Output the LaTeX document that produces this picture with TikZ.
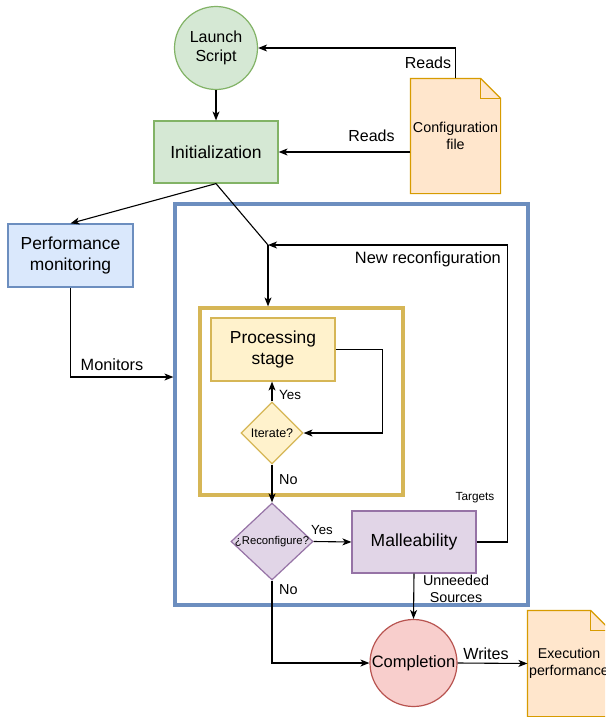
\documentclass[tikz,border=0pt]{standalone}
\usepackage{fontspec}
\setmainfont{Liberation Sans}
\usetikzlibrary{arrows.meta,shapes.geometric}
\definecolor{gfill}{HTML}{D5E8D4}\definecolor{gline}{HTML}{82B366}
\definecolor{ofill}{HTML}{FFE6CC}\definecolor{oline}{HTML}{D79B00}
\definecolor{bfill}{HTML}{DAE8FC}\definecolor{bline}{HTML}{6C8EBF}
\definecolor{yfill}{HTML}{FFF2CC}\definecolor{yline}{HTML}{D6B656}
\definecolor{pfill}{HTML}{E1D5E7}\definecolor{pline}{HTML}{9673A6}
\definecolor{rfill}{HTML}{F8CECC}\definecolor{rline}{HTML}{B85450}
\newcommand{\fs}[1]{\fontsize{#1}{\dimexpr #1pt*12/10\relax}\selectfont}
\begin{document}
\begin{tikzpicture}[x=1pt,y=-1pt,
  base/.style={line width=1.2pt,inner sep=0pt,align=center},
  greenbox/.style={base,draw=gline,fill=gfill},
  bluebox/.style={base,draw=bline,fill=bfill},
  yellowbox/.style={base,draw=yline,fill=yfill},
  purplebox/.style={base,draw=pline,fill=pfill},
  redbox/.style={base,draw=rline,fill=rfill},
  docnode/.style={base,draw=none},
  docshape/.style={line width=1.2pt,draw=oline,fill=ofill,line join=miter},
  frame/.style={line width=3.2pt,inner sep=0pt},
  arr/.style={line width=1.1pt,-{Stealth[length=9pt,width=7pt,inset=2.5pt]}},
  ln/.style={line width=1.1pt},
  lbl/.style={inner sep=0pt,align=center}]
\useasboundingbox (0,0) rectangle (605,717);
\clip (0,0) rectangle (605,717);
\fill[white] (0,0) rectangle (605,717);

% big frames
\node[frame,draw=bline,minimum width=353pt,minimum height=401pt] (outer) at (351.5,404.5) {};
\node[frame,draw=yline,minimum width=203pt,minimum height=187pt] (ybox) at (301.5,401.5) {};

% nodes
\node[greenbox,circle,minimum size=83pt,font=\fs{16}] (launch) at (216,48) {Launch\\Script};
\node[greenbox,minimum width=124pt,minimum height=62pt,font=\fs{17.5}] (init) at (216,152) {Initialization};
\node[docnode,minimum width=89pt,minimum height=114pt] (cfg) at (455.5,136) {};
\draw[docshape] (cfg.north west) -- ([xshift=-20pt]cfg.north east) -- ([yshift=-20pt]cfg.north east) -- (cfg.south east) -- (cfg.south west) -- cycle;
\draw[docshape,fill=none] ([xshift=-20pt]cfg.north east) -- ([xshift=-20pt,yshift=-20pt]cfg.north east) -- ([yshift=-20pt]cfg.north east);
\node[lbl,font=\fs{14.3}] (cfgtext) at (cfg.center) {Configuration\\file};

\node[bluebox,minimum width=125pt,minimum height=63pt,font=\fs{17.4}] (perf) at (70.5,255.5) {Performance\\monitoring};
\node[yellowbox,minimum width=124pt,minimum height=63pt,font=\fs{17.4}] (proc) at (273,349.5) {Processing\\stage};
\node[yellowbox,diamond,minimum width=62pt,minimum height=62pt,font=\fs{12.5}] (iter) at (272,433) {\makebox[0pt]{Iterate?}};
\node[purplebox,diamond,minimum width=82pt,minimum height=77pt,font=\fs{11.3}] (reconf) at (272,541.5) {\makebox[0pt]{¿Reconfigure?}};
\node[purplebox,minimum width=124pt,minimum height=62pt,font=\fs{17.5}] (mall) at (414,542) {Malleability};
\node[redbox,circle,minimum size=87pt,font=\fs{16.5}] (comp) at (413.5,663) {\makebox[0pt]{Completion}};
\node[docnode,minimum width=82pt,minimum height=105pt] (exec) at (569,663.5) {};
\draw[docshape] (exec.north west) -- ([xshift=-20pt]exec.north east) -- ([yshift=-20pt]exec.north east) -- (exec.south east) -- (exec.south west) -- cycle;
\draw[docshape,fill=none] ([xshift=-20pt]exec.north east) -- ([xshift=-20pt,yshift=-20pt]exec.north east) -- ([yshift=-20pt]exec.north east);
\node[lbl,font=\fs{14.2}] (exectext) at (exec.center) {Execution\\performance};

\coordinate (j) at (268,245);
\coordinate (monY) at (0,377);

% connectors
\draw[arr] (launch.south) -- (init.north);
\draw[arr] (cfg.north) |- (launch.east);
\draw[arr] (cfg.west |- init.east) -- (init.east);
\draw[arr] (init.south) -- (perf.north);
\draw[ln] (init.south) -- (j);
\draw[arr] (j) -- (j |- ybox.north);
\draw[arr] (perf.south) |- (outer.west |- monY);
\draw[arr] (iter.north) -- (iter.north |- proc.south);
\draw[arr] (proc.east) -- ++(47,0) |- (iter.east);
\draw[arr] (iter.south) -- (reconf.north);
\draw[arr] (reconf.east) -- (mall.west);
\draw[arr] (reconf.south) |- (comp.west);
\draw[arr] (mall.south) -- (comp.north);
\draw[arr] (mall.east) -- ++(31,0) |- (j);
\draw[arr] (comp.east) -- (exec.west);

% labels
\node[lbl,font=\fs{16}] (l1) at (428,63) {Reads};
\node[lbl,font=\fs{16}] (l2) at (371.5,136) {Reads};
\node[lbl,font=\fs{16.3}] (l3) at (112,365) {Monitors};
\node[lbl,font=\fs{16.4},anchor=east] (l4) at (501,259) {New reconfiguration};
\node[lbl,font=\fs{13.4},anchor=west] (l5) at (279,395) {Yes};
\node[lbl,font=\fs{14.4},anchor=west] (l6) at (279,480) {No};
\node[lbl,font=\fs{13.2}] (l7) at (322,530) {Yes};
\node[lbl,font=\fs{14.4},anchor=west] (l8) at (279,590) {No};
\node[lbl,font=\fs{11.8}] (l9) at (475,498) {Targets};
\node[lbl,font=\fontsize{14.3}{17}\selectfont] (l10) at (456,589) {Unneeded\\Sources};
\node[lbl,font=\fs{16.1}] (l11) at (486,654) {Writes};
\end{tikzpicture}
\end{document}
